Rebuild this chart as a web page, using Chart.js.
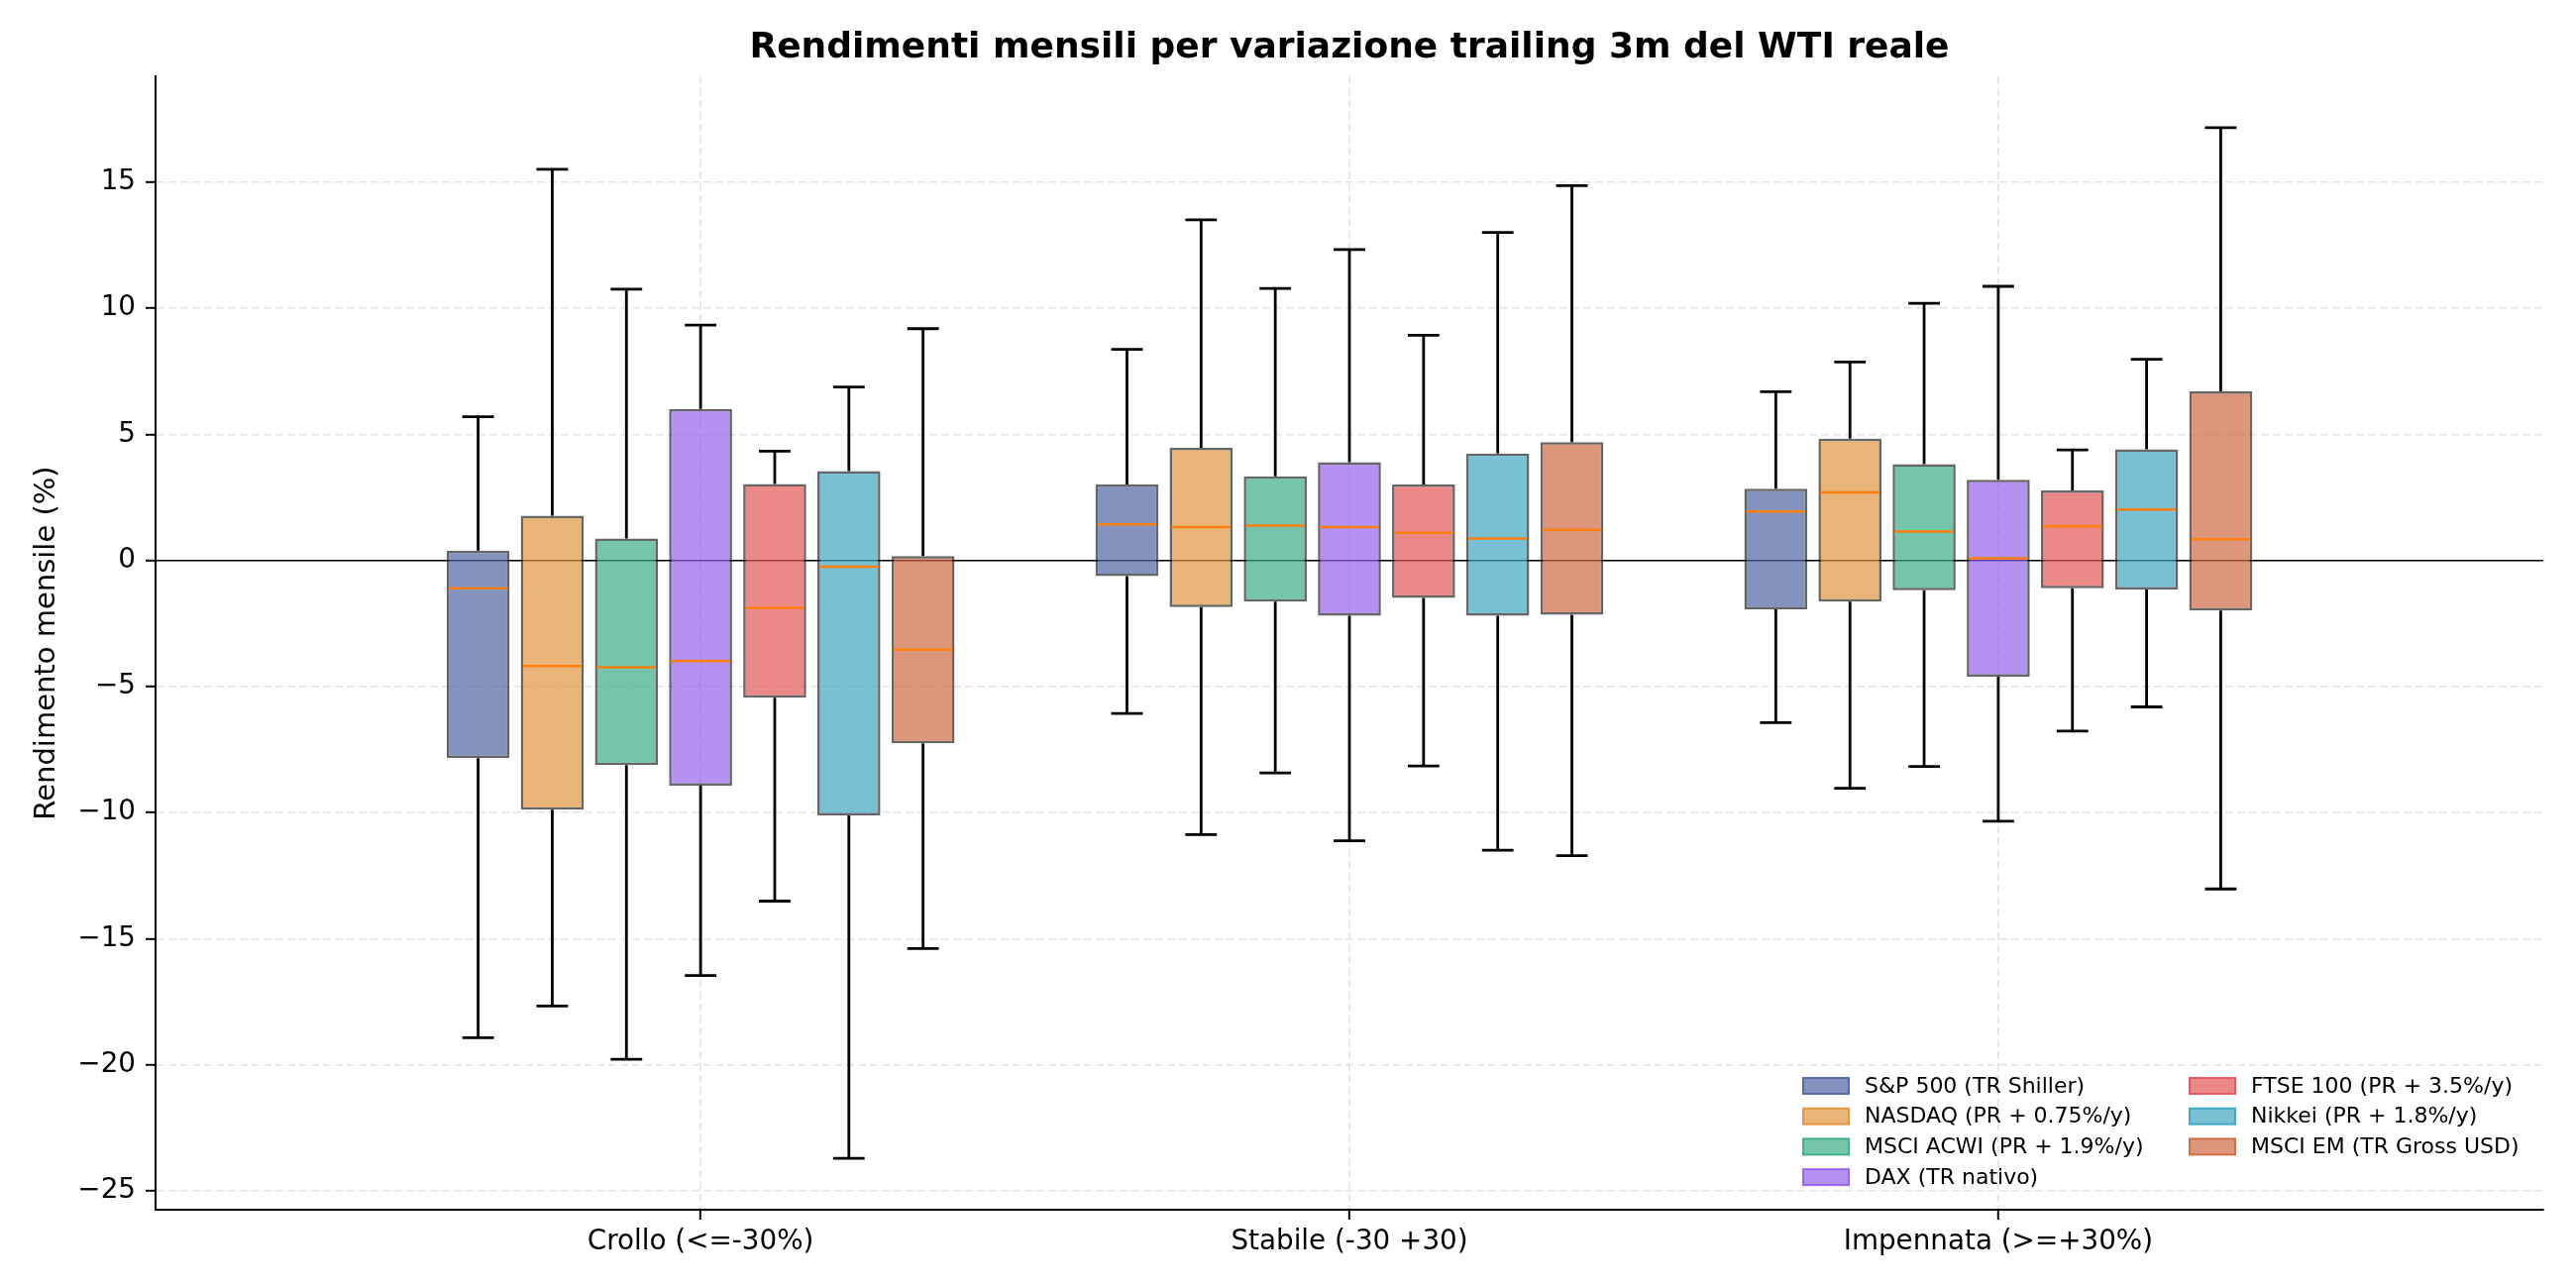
<!DOCTYPE html>
<html>
<head>
<meta charset="utf-8">
<script src="https://cdn.jsdelivr.net/npm/chart.js@4.4.0/dist/chart.umd.min.js"></script>
<style>
  html, body { margin: 0; padding: 0; background: #fff; }
  #wrap { width: 2600px; height: 1300px; }
</style>
</head>
<body>
<div id="wrap"><canvas id="boxChart" width="2600" height="1300"></canvas></div>
<script>
// Regimes of the trailing 3m change of real WTI
const categories = ['Crollo (<=-30%)', 'Stabile (-30 +30)', 'Impennata (>=+30%)'];

const seriesNames = [
    'S&P 500 (TR Shiller)',
    'NASDAQ (PR + 0.75%/y)',
    'MSCI ACWI (PR + 1.9%/y)',
    'DAX (TR nativo)',
    'FTSE 100 (PR + 3.5%/y)',
    'Nikkei (PR + 1.8%/y)',
    'MSCI EM (TR Gross USD)'
];

const seriesColors = [
    [79, 101, 161],
    [224, 148, 62],
    [59, 172, 136],
    [149, 99, 236],
    [226, 86, 86],
    [62, 166, 195],
    [206, 105, 65]
];

// One row per series, one column per regime (monthly return, %)
const whiskerHigh = [
    [5.70, 8.37, 6.69],
    [15.51, 13.51, 7.87],
    [10.76, 10.79, 10.20],
    [9.33, 12.33, 10.87],
    [4.33, 8.93, 4.38],
    [6.88, 13.01, 7.98],
    [9.19, 14.86, 17.16]
];
const boxHigh = [
    [0.39, 3.01, 2.84],
    [1.77, 4.47, 4.83],
    [0.87, 3.34, 3.82],
    [6.01, 3.90, 3.20],
    [3.03, 3.01, 2.78],
    [3.54, 4.24, 4.41],
    [0.17, 4.69, 6.71]
];
const medians = [
    [-1.10, 1.43, 1.94],
    [-4.19, 1.32, 2.70],
    [-4.24, 1.38, 1.15],
    [-3.99, 1.32, 0.08],
    [-1.88, 1.10, 1.35],
    [-0.25, 0.87, 2.02],
    [-3.54, 1.21, 0.84]
];
const boxLow = [
    [-7.84, -0.62, -1.94],
    [-9.89, -1.85, -1.63],
    [-8.12, -1.63, -1.18],
    [-8.93, -2.19, -4.61],
    [-5.45, -1.49, -1.10],
    [-10.11, -2.19, -1.15],
    [-7.25, -2.16, -1.99]
];
const whiskerLow = [
    [-18.93, -6.07, -6.43],
    [-17.67, -10.87, -9.04],
    [-19.78, -8.43, -8.17],
    [-16.46, -11.12, -10.34],
    [-13.51, -8.15, -6.77],
    [-23.71, -11.49, -5.81],
    [-15.39, -11.71, -13.03]
];

const yTickValues = [-25, -20, -15, -10, -5, 0, 5, 10, 15];

const chartTitle = 'Rendimenti mensili per variazione trailing 3m del WTI reale';

const FONT = "'DejaVu Sans', sans-serif";
const rgba = (c, a) => `rgba(${c[0]}, ${c[1]}, ${c[2]}, ${a})`;

// boxes of one group sit side by side around the category position
const groupSpan = 0.8;
const slot = groupSpan / seriesNames.length;

const datasets = seriesNames.map((name, s) => ({
    label: name,
    data: categories.map((c, g) => ({
        x: g + (s - (seriesNames.length - 1) / 2) * slot,
        y: [boxLow[s][g], boxHigh[s][g]]
    })),
    backgroundColor: rgba(seriesColors[s], 0.7),
    borderColor: 'rgba(0, 0, 0, 0.6)',
    borderWidth: 2.5,
    borderSkipped: false,
    grouped: false,
    categoryPercentage: 0.85,
    barPercentage: 1
}));

// zero line, whiskers, caps and medians
const boxPlotExtras = {
    id: 'boxPlotExtras',
    beforeDatasetsDraw(chart) {
        const { ctx, chartArea, scales: { y } } = chart;
        const y0 = y.getPixelForValue(0);
        ctx.save();
        ctx.strokeStyle = '#000';
        ctx.lineWidth = 1.5;
        ctx.beginPath();
        ctx.moveTo(chartArea.left, y0);
        ctx.lineTo(chartArea.right, y0);
        ctx.stroke();
        ctx.restore();
    },
    afterDatasetsDraw(chart) {
        const { ctx, scales: { y } } = chart;
        ctx.save();
        seriesNames.forEach((name, s) => {
            const meta = chart.getDatasetMeta(s);
            meta.data.forEach((bar, g) => {
                const x = bar.x;
                const half = bar.width / 2;
                const capHalf = bar.width / 4;
                const yQ3 = y.getPixelForValue(boxHigh[s][g]);
                const yQ1 = y.getPixelForValue(boxLow[s][g]);
                const yHi = y.getPixelForValue(whiskerHigh[s][g]);
                const yLo = y.getPixelForValue(whiskerLow[s][g]);
                const yMed = y.getPixelForValue(medians[s][g]);

                ctx.strokeStyle = '#000';
                ctx.lineWidth = 2.8;
                ctx.beginPath();
                ctx.moveTo(x, yQ3);
                ctx.lineTo(x, yHi);
                ctx.moveTo(x - capHalf, yHi);
                ctx.lineTo(x + capHalf, yHi);
                ctx.moveTo(x, yQ1);
                ctx.lineTo(x, yLo);
                ctx.moveTo(x - capHalf, yLo);
                ctx.lineTo(x + capHalf, yLo);
                ctx.stroke();

                ctx.strokeStyle = '#ff7f0e';
                ctx.lineWidth = 2.5;
                ctx.beginPath();
                ctx.moveTo(x - half + 2, yMed);
                ctx.lineTo(x + half - 2, yMed);
                ctx.stroke();
            });
        });
        ctx.restore();
    }
};

// title centred over the plot area, legend in two columns at lower right
const titleAndLegend = {
    id: 'titleAndLegend',
    afterDraw(chart) {
        const { ctx, chartArea } = chart;
        ctx.save();
        ctx.fillStyle = '#000';
        ctx.font = `bold 36px ${FONT}`;
        ctx.textAlign = 'center';
        ctx.textBaseline = 'alphabetic';
        ctx.fillText(chartTitle, (chartArea.left + chartArea.right) / 2, chartArea.top - 19);

        const rows = 4;
        const colLeft = [chartArea.right - 747, chartArea.right - 357];
        const firstRow = chartArea.bottom - 125;
        const rowStep = 30.7;
        ctx.font = `22px ${FONT}`;
        ctx.textAlign = 'left';
        ctx.textBaseline = 'middle';
        seriesNames.forEach((name, s) => {
            const col = Math.floor(s / rows);
            const row = s % rows;
            const px = colLeft[col];
            const py = firstRow + row * rowStep;
            ctx.fillStyle = rgba(seriesColors[s], 0.7);
            ctx.fillRect(px, py - 8, 46, 16);
            ctx.strokeStyle = rgba(seriesColors[s], 0.95);
            ctx.lineWidth = 2;
            ctx.strokeRect(px, py - 8, 46, 16);
            ctx.fillStyle = '#000';
            ctx.fillText(name, px + 62, py + 1);
        });
        ctx.restore();
    }
};

const gridColor = '#e3e3e3';

new Chart(document.getElementById('boxChart'), {
    type: 'bar',
    data: { datasets },
    options: {
        responsive: false,
        devicePixelRatio: 1,
        animation: false,
        layout: { padding: { left: 0, right: 33, top: 77, bottom: 0 } },
        plugins: {
            legend: { display: false },
            tooltip: { enabled: false },
            title: { display: false }
        },
        scales: {
            x: {
                type: 'linear',
                min: -0.84,
                max: 2.84,
                offset: false,
                afterBuildTicks: (scale) => {
                    scale.ticks = categories.map((c, i) => ({ value: i }));
                },
                afterFit: (scale) => { scale.height = 79; },
                ticks: {
                    color: '#000',
                    font: { family: FONT, size: 27.8 },
                    padding: 6,
                    maxRotation: 0,
                    callback: (value) => categories[Math.round(value)]
                },
                grid: {
                    offset: false,
                    color: gridColor,
                    lineWidth: 1.6,
                    tickLength: 10,
                    tickColor: '#000',
                    tickWidth: 2
                },
                border: { color: '#000', width: 2, dash: [8, 4] }
            },
            y: {
                min: -25.75,
                max: 19.2,
                afterBuildTicks: (scale) => {
                    scale.ticks = yTickValues.map(v => ({ value: v }));
                },
                afterFit: (scale) => { scale.width = 157; },
                ticks: {
                    color: '#000',
                    font: { family: FONT, size: 27.8 },
                    padding: 10,
                    callback: (value) => String(value).replace('-', '\u2212')
                },
                grid: {
                    color: gridColor,
                    lineWidth: 1.6,
                    tickLength: 10,
                    tickColor: '#000',
                    tickWidth: 2
                },
                border: { color: '#000', width: 2, dash: [8, 4] },
                title: {
                    display: true,
                    text: 'Rendimento mensile (%)',
                    color: '#000',
                    font: { family: FONT, size: 29 },
                    padding: { top: 30, bottom: 0 }
                }
            }
        }
    },
    plugins: [boxPlotExtras, titleAndLegend]
});
</script>
</body>
</html>
